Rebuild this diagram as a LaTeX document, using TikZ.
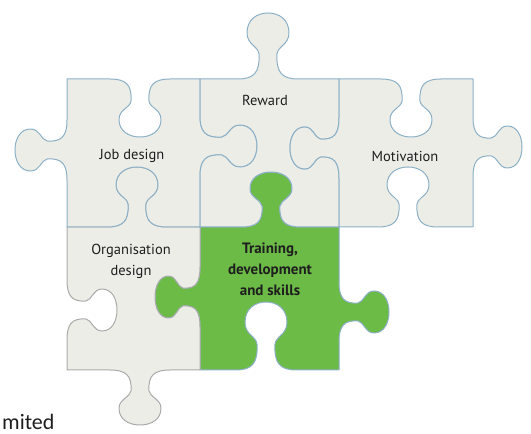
\documentclass[tikz,border=0pt]{standalone}
\usepackage{fontspec}
\setmainfont{PT Sans}
\newfontfamily\notefont{Carlito}

\definecolor{piecegrey}{RGB}{237,237,232}
\definecolor{pieceline}{RGB}{140,176,198}
\definecolor{orgline}{RGB}{170,170,170}
\definecolor{pzgreen}{RGB}{108,187,71}
\definecolor{pztext}{RGB}{30,30,30}

% knob on an edge: centre x, centre y, direction, depth (+ tab, - blank)
\newcommand{\pzknob}[4]{%
  {[shift={(#1,#2)},rotate=#3]
   -- (-30,0) .. controls (-14,0) and (-8,{0.1*(#4)}) .. (-9,{0.38*(#4)})
   .. controls (-10,{0.5*(#4)}) and (-21,{0.52*(#4)}) .. (-21,{0.7*(#4)})
   .. controls (-21,{0.9*(#4)}) and (-11,{#4}) .. (0,{#4})
   .. controls (11,{#4}) and (21,{0.9*(#4)}) .. (21,{0.7*(#4)})
   .. controls (21,{0.52*(#4)}) and (10,{0.5*(#4)}) .. (9,{0.38*(#4)})
   .. controls (8,{0.1*(#4)}) and (14,0) .. (30,0)}}

\begin{document}
\begin{tikzpicture}[x=1pt,y=1pt,
    piece/.style={fill=piecegrey,draw=pieceline,line width=1pt,line join=round},
    label/.style={text=pztext,align=center,font=\fontsize{14.5}{21}\selectfont}]
  \useasboundingbox (0,0) rectangle (531,434);
  % bottom row
  \path[piece,fill=pzgreen] (200,207) \pzknob{271}{207}{0}{55} -- (339,207)
     \pzknob{339}{122}{-90}{50} -- (339,64) \pzknob{266}{64}{180}{-68} -- (200,64)
     \pzknob{200}{137}{90}{45} -- cycle;
  \path[piece,draw=orgline] (67,207) \pzknob{137}{207}{0}{60} -- (200,207)
     \pzknob{200}{137}{-90}{-45} -- (200,64) \pzknob{140}{64}{180}{55} -- (67,64)
     \pzknob{67}{124}{90}{-50} -- cycle;
  % top row
  \path[piece] (67,355) \pzknob{140}{355}{0}{-58} -- (200,355)
     \pzknob{200}{288}{-90}{57} -- (200,207) \pzknob{137}{207}{180}{-60} -- (67,207)
     \pzknob{67}{284}{90}{52} -- cycle;
  \path[piece] (200,355) \pzknob{268}{355}{0}{66} -- (339,355)
     \pzknob{339}{286}{-90}{-49} -- (339,207) \pzknob{271}{207}{180}{-55} -- (200,207)
     \pzknob{200}{288}{90}{-57} -- cycle;
  \path[piece] (339,355) \pzknob{411}{355}{0}{-58} -- (473,355)
     \pzknob{473}{287}{-90}{49} -- (473,207) \pzknob{408}{207}{180}{-60} -- (339,207)
     \pzknob{339}{286}{90}{49} -- cycle;
  % labels
  \node [label] (reward) at (265,334) {Reward};
  \node [label] (job) at (132,278) {Job design};
  \node [label] (motiv) at (405,278) {Motivation};
  \node [label] (org) at (131,173) {Organisation\\design};
  \node [label,font=\fontsize{15}{21}\selectfont\bfseries] (train) at (270,165) {Training,\\development\\and skills};
  \node [anchor=base west,inner sep=0pt,text=pztext,font=\notefont\fontsize{22}{24}\selectfont] (note) at (2,4) {mited};
\end{tikzpicture}
\end{document}
